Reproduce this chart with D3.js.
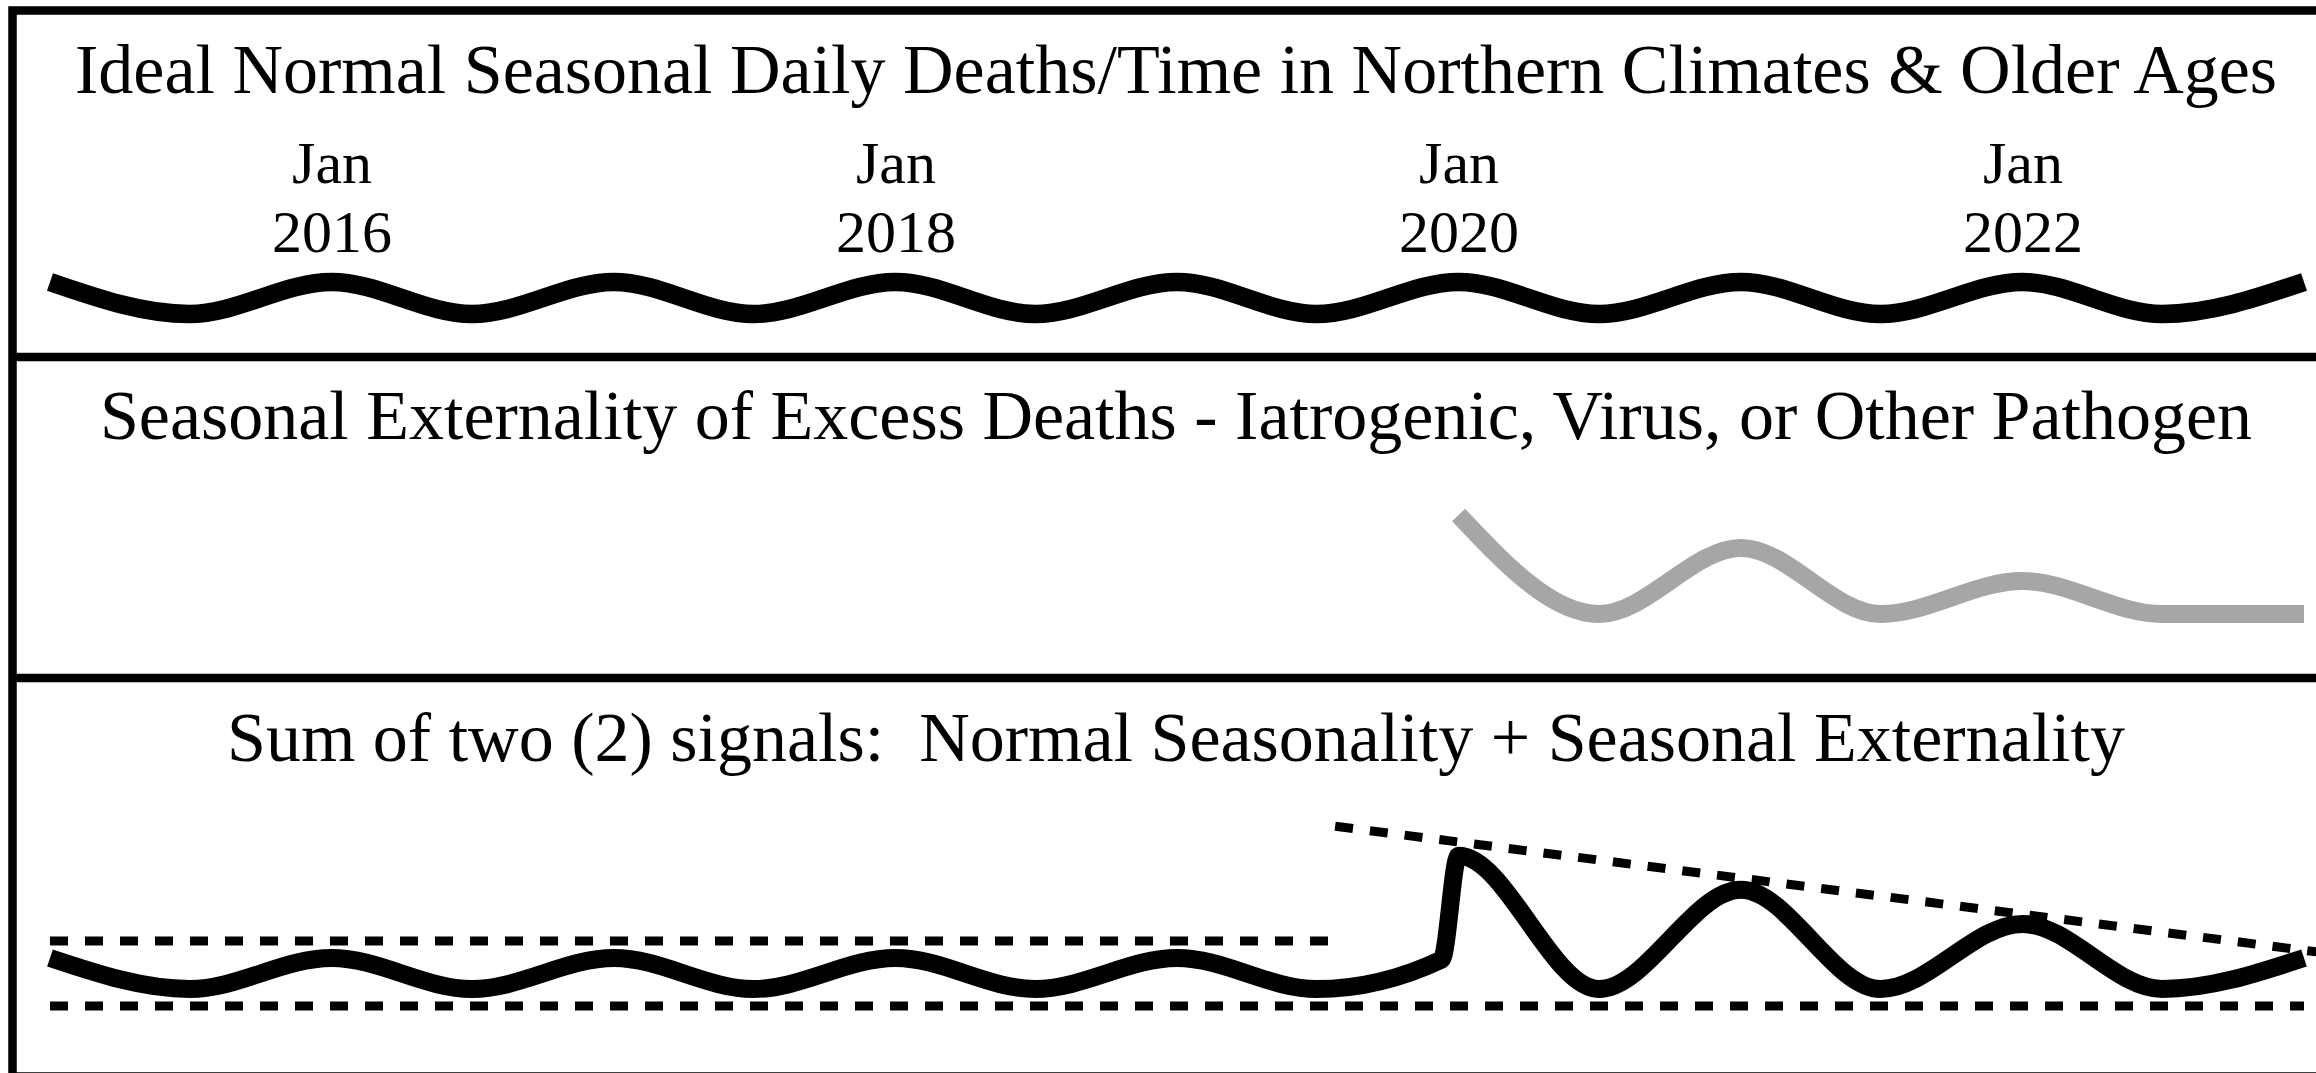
<!DOCTYPE html>
<html>
<head>
<meta charset="utf-8">
<script src="https://cdn.jsdelivr.net/npm/d3@7"></script>
<style>
  body { margin: 0; background: #fff; }
  svg { display: block; }
</style>
</head>
<body>
<svg></svg>
<script>
const width = 2316, height = 1073;
const parse = d3.timeParse("%Y-%m-%d");

const titles = [
  "Ideal Normal Seasonal Daily Deaths/Time in Northern Climates & Older Ages",
  "Seasonal Externality of Excess Deaths - Iatrogenic, Virus, or Other Pathogen",
  "Sum of two (2) signals:  Normal Seasonality + Seasonal Externality"
];
const tickDates = ["2016-01-01", "2018-01-01", "2020-01-01", "2022-01-01"];

// normal seasonality: winter peak each January, summer trough each July
const normalDates = [
  "2015-01-01", "2015-07-01", "2016-01-01", "2016-07-01", "2017-01-01", "2017-07-01",
  "2018-01-01", "2018-07-01", "2019-01-01", "2019-07-01", "2020-01-01", "2020-07-01",
  "2021-01-01", "2021-07-01", "2022-01-01", "2022-07-01", "2023-01-01"
];
const normalValues = [100, 80, 100, 80, 100, 80, 100, 80, 100, 80, 100, 80, 100, 80, 100, 80, 100];

// seasonal externality (excess deaths)
const excessDates = ["2020-01-01", "2020-07-01", "2021-01-01", "2021-07-01", "2022-01-01", "2022-07-01", "2023-01-01"];
const excessValues = [66, 0, 44, 0, 22, 0, 0];

// sum of the two signals
const sumDates = [
  "2015-01-01", "2015-07-01", "2016-01-01", "2016-07-01", "2017-01-01", "2017-07-01",
  "2018-01-01", "2018-07-01", "2019-01-01", "2019-07-01", "2019-12-10", "2020-01-01",
  "2020-07-01", "2021-01-01", "2021-07-01", "2022-01-01", "2022-07-01", "2023-01-01"
];
const sumValues = [100, 80, 100, 80, 100, 80, 100, 80, 100, 80, 99, 166, 80, 144, 80, 122, 80, 100];

// dotted guide lines in the sum panel
const upperBandDates = ["2015-01-01", "2019-07-17"];
const upperBandValues = [111, 111];
const lowerBandDates = ["2015-01-01", "2023-01-01"];
const lowerBandValues = [69, 69];
const trendDates = ["2019-07-25", "2023-02-01"];
const trendValues = [185, 103];

const zip = (dates, values) => dates.map((d, i) => ({ date: parse(d), value: values[i] }));

const svg = d3.select("svg")
  .attr("width", width)
  .attr("height", height);

const font = "'Liberation Serif', 'Times New Roman', serif";

const x = d3.scaleTime()
  .domain([parse("2015-01-01"), parse("2023-01-01")])
  .range([50, 2304]);

const y1 = d3.scaleLinear().domain([80, 100]).range([314, 282]);
const y2 = d3.scaleLinear().domain([0, 66]).range([614, 515]);
const y3 = d3.scaleLinear().domain([80, 100]).range([989, 958]);

// frame and panel dividers
svg.append("rect")
  .attr("x", 12.5).attr("y", 10.5)
  .attr("width", 2340).attr("height", 1066)
  .attr("fill", "none").attr("stroke", "#000").attr("stroke-width", 8.5);

[357, 678].forEach(yy => {
  svg.append("line")
    .attr("x1", 12).attr("x2", 2360)
    .attr("y1", yy).attr("y2", yy)
    .attr("stroke", "#000").attr("stroke-width", 8.5);
});

// titles
svg.selectAll(".title")
  .data(titles)
  .enter()
  .append("text")
  .attr("class", "title")
  .attr("x", 1176)
  .attr("y", (d, i) => [93, 439, 761][i])
  .attr("text-anchor", "middle")
  .style("font-family", font)
  .style("font-size", "70px")
  .style("white-space", "pre")
  .text(d => d);

// time axis (Jan / year)
const axis = d3.axisTop(x)
  .tickValues(tickDates.map(parse))
  .tickSize(0);

const axisG = svg.append("g").call(axis);
axisG.select(".domain").remove();
axisG.selectAll(".tick text").each(function (d) {
  const t = d3.select(this).text(null).attr("y", null).attr("dy", null)
    .attr("text-anchor", "middle")
    .attr("fill", "#000")
    .style("font-family", font)
    .style("font-size", "60px");
  t.append("tspan").attr("x", 0).attr("y", 183).text(d3.timeFormat("%b")(d));
  t.append("tspan").attr("x", 0).attr("y", 252).text(d3.timeFormat("%Y")(d));
});

const lineFor = y => d3.line()
  .x(d => x(d.date))
  .y(d => y(d.value))
  .curve(d3.curveMonotoneX);

// panel 1: normal seasonality
svg.append("path")
  .datum(zip(normalDates, normalValues))
  .attr("d", lineFor(y1))
  .attr("fill", "none").attr("stroke", "#000").attr("stroke-width", 18.5);

// panel 2: externality
svg.append("path")
  .datum(zip(excessDates, excessValues))
  .attr("d", lineFor(y2))
  .attr("fill", "none").attr("stroke", "#a6a6a6").attr("stroke-width", 18);

// panel 3: dotted guides
const guides = [
  zip(upperBandDates, upperBandValues),
  zip(lowerBandDates, lowerBandValues),
  zip(trendDates, trendValues)
];
svg.selectAll(".guide")
  .data(guides)
  .enter()
  .append("path")
  .attr("class", "guide")
  .attr("d", d3.line().x(d => x(d.date)).y(d => y3(d.value)))
  .attr("fill", "none")
  .attr("stroke", "#000")
  .attr("stroke-width", 9)
  .attr("stroke-dasharray", "18,17");

// panel 3: sum
svg.append("path")
  .datum(zip(sumDates, sumValues))
  .attr("d", lineFor(y3))
  .attr("fill", "none").attr("stroke", "#000").attr("stroke-width", 18)
  .attr("stroke-linejoin", "miter");
</script>
</body>
</html>
